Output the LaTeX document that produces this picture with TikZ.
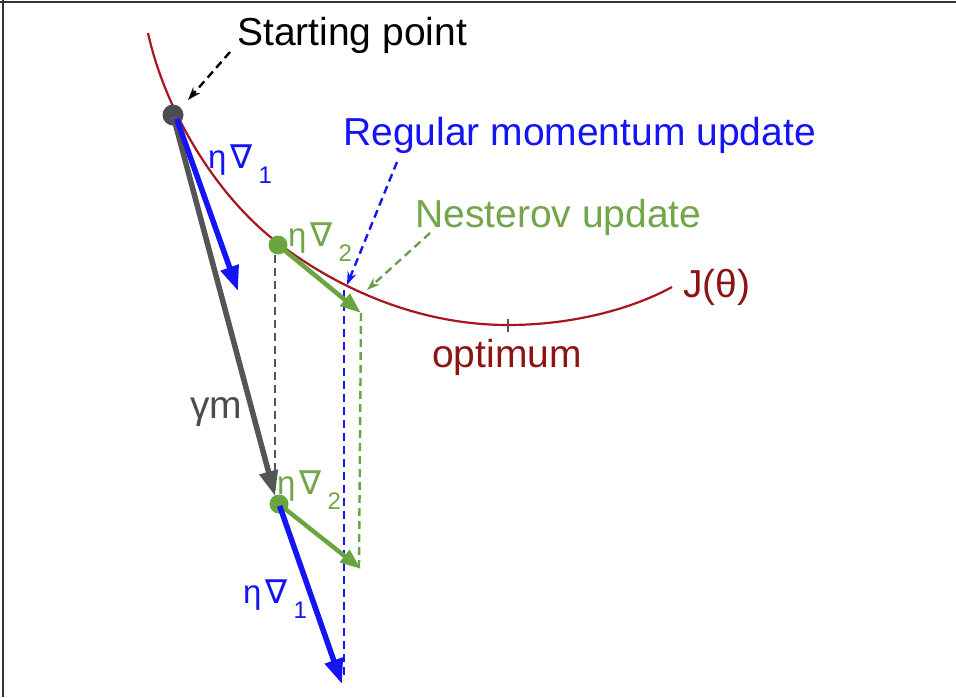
\documentclass[tikz,border=0pt]{standalone}
\usepackage{fontspec}
\setmainfont{Liberation Sans}
\newfontfamily\symf{DejaVu Sans}
\usetikzlibrary{arrows.meta}
\definecolor{cred}{RGB}{170,20,30}
\definecolor{tred}{RGB}{140,20,20}
\definecolor{cblue}{RGB}{20,20,245}
\definecolor{cgreen}{RGB}{105,165,65}
\definecolor{tgreen}{RGB}{115,165,75}
\definecolor{cgray}{RGB}{85,85,85}
\definecolor{cdot}{RGB}{75,75,85}
\newcommand\ednab[1]{{\fontsize{33}{33}\selectfont η}\hspace{4pt}{\symf\fontsize{33}{33}\selectfont ∇}\hspace{6pt}\raisebox{-15pt}{\fontsize{24}{24}\selectfont #1}}
\tikzset{
  lbl/.style={font=\fontsize{39}{47}\selectfont, inner sep=0pt, anchor=base west},
  sublbl/.style={inner sep=0pt, anchor=base west},
  dotnode/.style={circle, inner sep=0pt, minimum size=#1},
  bigarrow/.style={line width=5.5pt, -{Triangle[length=25pt,width=18pt]}, shorten <=2pt},
  pointer/.style={line width=2.4pt, dash pattern=on 8pt off 5pt, -{Stealth[length=13pt,width=9pt]}},
  guide/.style={line width=2.4pt, dash pattern=on 8pt off 5pt}
}
\begin{document}
\begin{tikzpicture}[x=1pt,y=-1pt]
\useasboundingbox (0,0) rectangle (956,697);
\fill[white] (0,0) rectangle (956,697);
\draw[line width=1.5pt, black!80] (0,2) -- (956,2);
\draw[line width=1.5pt, black!80] (3,0) -- (3,697);
% cost curve
\coordinate (c0) at (148,33);
\coordinate (c1) at (278,243);
\coordinate (opt) at (508,325);
\coordinate (c3) at (672,287);
\draw[cred, line width=2.2pt] (c0) .. controls (165,110) and (215,195) .. (c1)
  .. controls (340,290) and (420,325) .. (opt)
  .. controls (570,325) and (630,310) .. (c3);
\draw[cgray, line width=1.3pt] ([yshift=-7pt]opt) -- ([yshift=6pt]opt);
% points
\node[dotnode=21pt, fill=cdot] (p0) at (173,115) {};
\node[dotnode=19pt, fill=cgreen] (g1) at (278,245) {};
\node[dotnode=19pt, fill=cgreen] (g2) at (279,504) {};
% coordinates
\coordinate (b1) at (238,291);
\coordinate (m1) at (275,496);
\coordinate (n1) at (361,313);
\coordinate (n2) at (361,569);
\coordinate (b2) at (342,684);
\coordinate (gv) at (275,490);
\coordinate (bvt) at (344,290);
\coordinate (bvb) at (344,680);
\coordinate (nvb) at (359,568);
% guides
\draw[guide, cgray] (g1.south) ++(-3,0) coordinate (gtop) -- (gv);
\draw[guide, cblue] (bvt) -- (bvb);
\draw[guide, cgreen] (n1) -- (nvb);
% arrows
\draw[bigarrow, cgray] (p0.center) -- (m1);
\draw[bigarrow, cblue] (p0.center) ++(3,2) -- (b1);
\draw[bigarrow, cgreen, line width=4.6pt, -{Triangle[length=21pt,width=15pt]}] (g1.center) -- (n1);
\draw[bigarrow, cgreen, line width=4.4pt, -{Triangle[length=21pt,width=15pt]}] (g2.center) -- (n2);
\draw[bigarrow, cblue] (g2.center) -- (b2);
% texts
\node[lbl, text=black] (tstart) at (237,45) {Starting point};
\node[lbl, text=cblue] (treg) at (343,145) {Regular momentum update};
\node[lbl, text=tgreen] (tnes) at (415,227) {Nesterov update};
\node[lbl, text=tred] (topt) at (432,367) {optimum};
\node[lbl, text=tred] (tj) at (683,297) {J(θ)};
\node[lbl, text=cgray!90!black] (tgm) at (190,418) {γm};
\node[sublbl, text=cblue] (e1) at (208,168) {\ednab{1}};
\node[sublbl, text=tgreen] (e2) at (288,246) {\ednab{2}};
\node[sublbl, text=tgreen] (e3) at (277,494) {\ednab{2}};
\node[sublbl, text=cblue] (e4) at (243,603) {\ednab{1}};
% pointers
\coordinate (sp1) at (230,52);
\coordinate (sp2) at (188,100);
\draw[pointer, black] (sp1) -- (sp2);
\coordinate (rp1) at (397,162);
\coordinate (rp2) at (347,285);
\draw[pointer, cblue] (rp1) -- (rp2);
\coordinate (np1) at (430,233);
\coordinate (np2) at (367,290);
\draw[pointer, cgreen!80!gray] (np1) -- (np2);
\end{tikzpicture}
\end{document}
